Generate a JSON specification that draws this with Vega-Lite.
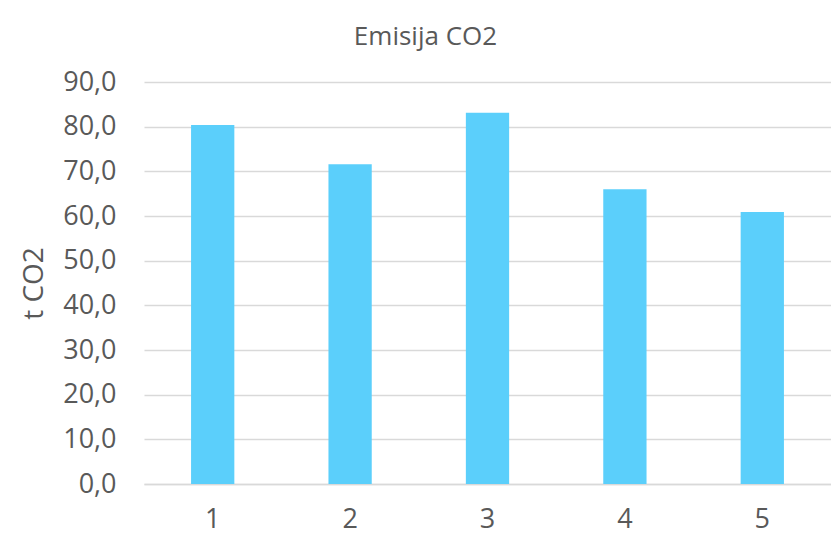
{
  "$schema": "https://vega.github.io/schema/vega-lite/v6.json",
  "autosize": {"type": "none"},
  "padding": {"left": 144, "top": 82, "right": 0, "bottom": 55},
  "width": 687,
  "height": 402,
  "background": "white",
  "title": {"text": "Emisija CO2", "fontSize": 26, "font": "Open Sans", "fontWeight": "normal", "color": "#595959", "dx": -62, "offset": 18},
  "data": {"values": [
    {"cat": "1", "value": 80.4},
    {"cat": "2", "value": 71.6},
    {"cat": "3", "value": 83.1},
    {"cat": "4", "value": 66.0},
    {"cat": "5", "value": 60.9}
  ]},
  "mark": {"type": "bar", "color": "#5bcffb"},
  "encoding": {
    "x": {"field": "cat", "type": "ordinal",
      "scale": {"paddingInner": 0.685, "paddingOuter": 0.3425},
      "axis": {"title": null, "labelAngle": 0, "labelFontSize": 27, "labelFont": "Open Sans", "labelColor": "#595959", "ticks": false, "domainColor": "#d9d9d9", "domainWidth": 1.5, "labelPadding": 22}},
    "y": {"field": "value", "type": "quantitative",
      "scale": {"domain": [0, 90], "nice": false},
      "axis": {"title": "t CO2", "titleFontSize": 28, "titleFont": "Open Sans", "titleFontWeight": "normal", "titleColor": "#595959", "titlePadding": 14,
        "values": [0, 10, 20, 30, 40, 50, 60, 70, 80, 90],
        "labelExpr": "replace(format(datum.value, '.1f'), '.', ',')",
        "labelFontSize": 27, "labelFont": "Open Sans", "labelColor": "#595959", "labelPadding": 28,
        "ticks": false, "domain": false, "gridColor": "#d9d9d9", "gridWidth": 1.5}}
  },
  "config": {"view": {"stroke": null}}
}
